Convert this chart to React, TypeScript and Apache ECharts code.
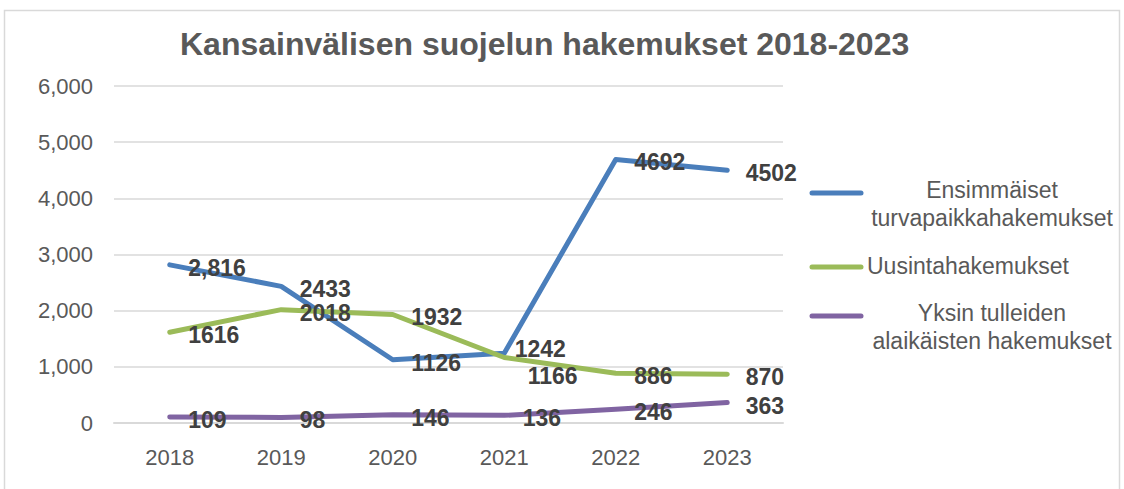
import React, { useEffect, useRef } from "react";
import * as echarts from "echarts";

const years = ["2018", "2019", "2020", "2021", "2022", "2023"];
const firstApplications = [2816, 2433, 1126, 1242, 4692, 4502];
const repeatApplications = [1616, 2018, 1932, 1166, 886, 870];
const minorApplications = [109, 98, 146, 136, 246, 363];
const seriesNames = [
  "Ensimmäiset\nturvapaikkahakemukset",
  "Uusintahakemukset",
  "Yksin tulleiden\nalaikäisten hakemukset",
];
const titleText = "Kansainvälisen suojelun hakemukset 2018-2023";

const FONT = "'Liberation Sans', Arial, sans-serif";
const COLORS = ["#4A7EBB", "#9BBB59", "#8064A2"];

export default function App() {
  const ref = useRef<HTMLDivElement>(null);

  useEffect(() => {
    document.body.style.margin = "0";
    if (!ref.current) return;
    const chart = echarts.init(ref.current, undefined, { renderer: "svg" });

    const labelBase = {
      show: true,
      position: "right",
      distance: 18,
      offset: [0, 3],
      color: "#404040",
      fontFamily: FONT,
      fontWeight: "bold",
      fontSize: 23,
      formatter: (p: any) =>
        p.seriesIndex === 0 && p.dataIndex === 0
          ? Number(p.value).toLocaleString("en-US")
          : String(p.value),
    };

    const mk = (name: string, values: number[], color: string, overrides: Record<number, any>) => ({
      name,
      type: "line",
      data: values.map((v, i) => (overrides[i] ? { value: v, label: overrides[i] } : v)),
      symbol: "circle",
      symbolSize: 1,
      showSymbol: true,
      itemStyle: { color },
      lineStyle: { color, width: 5, cap: "round", join: "round" },
      label: labelBase,
      emphasis: { disabled: true },
    });

    const legendItems: any[] = [];
    const legendLineY = [193, 267, 316];
    legendLineY.forEach((y, i) => {
      legendItems.push({
        type: "line",
        shape: { x1: 812, y1: y, x2: 861, y2: y },
        style: { stroke: COLORS[i], lineWidth: 5, lineCap: "round" },
      });
    });
    legendItems.push({
      type: "text",
      x: 992,
      y: 204,
      style: {
        text: seriesNames[0],
        fill: "#595959",
        font: `23px ${FONT}`,
        align: "center",
        verticalAlign: "middle",
        lineHeight: 28,
      },
    });
    legendItems.push({
      type: "text",
      x: 867,
      y: 266,
      style: {
        text: seriesNames[1],
        fill: "#595959",
        font: `23px ${FONT}`,
        align: "left",
        verticalAlign: "middle",
      },
    });
    legendItems.push({
      type: "text",
      x: 992,
      y: 327,
      style: {
        text: seriesNames[2],
        fill: "#595959",
        font: `23px ${FONT}`,
        align: "center",
        verticalAlign: "middle",
        lineHeight: 28,
      },
    });

    chart.setOption({
      animation: false,
      backgroundColor: "#ffffff",
      title: {
        text: titleText,
        left: 180,
        top: 28,
        padding: 0,
        textStyle: {
          fontFamily: FONT,
          fontSize: 32,
          fontWeight: "bold",
          color: "#595959",
        },
      },
      grid: { left: 114, right: 341, top: 86, bottom: 66, containLabel: false },
      xAxis: {
        type: "category",
        data: years,
        boundaryGap: true,
        axisLine: { show: true, lineStyle: { color: "#D9D9D9", width: 2 } },
        axisTick: { show: false },
        axisLabel: {
          color: "#595959",
          fontFamily: FONT,
          fontSize: 22,
          margin: 23,
        },
      },
      yAxis: {
        type: "value",
        min: 0,
        max: 6000,
        interval: 1000,
        axisLine: { show: false },
        axisTick: { show: false },
        splitLine: { lineStyle: { color: "#D9D9D9", width: 1.5 } },
        axisLabel: {
          color: "#595959",
          fontFamily: FONT,
          fontSize: 22,
          margin: 21,
        },
      },
      graphic: [
        {
          type: "rect",
          shape: { x: 4.5, y: 10.5, width: 1115, height: 520 },
          style: { fill: "none", stroke: "#D9D9D9", lineWidth: 1.5 },
          silent: true,
        },
        ...legendItems,
      ],
      series: [
        mk(seriesNames[0], firstApplications, COLORS[0], {
          3: { offset: [-8, -4] },
        }),
        mk(seriesNames[1], repeatApplications, COLORS[1], {
          3: { offset: [5, 18] },
        }),
        mk(seriesNames[2], minorApplications, COLORS[2], {}),
      ],
    });

    return () => chart.dispose();
  }, []);

  return <div ref={ref} style={{ width: 1124, height: 489 }} />;
}
